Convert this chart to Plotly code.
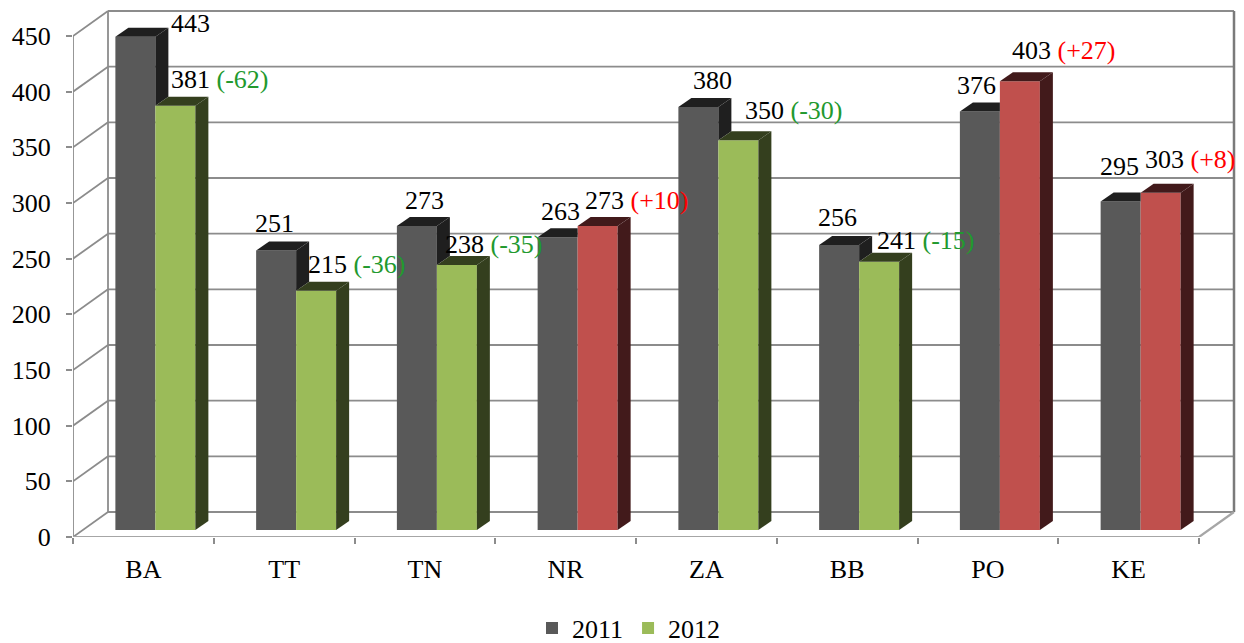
import plotly.graph_objects as go

# ---------------- data ----------------
categories = ["BA", "TT", "TN", "NR", "ZA", "BB", "PO", "KE"]
values_2011 = [443, 251, 273, 263, 380, 256, 376, 295]
values_2012 = [381, 215, 238, 273, 350, 241, 403, 303]
y_ticks = [0, 50, 100, 150, 200, 250, 300, 350, 400, 450]
series_names = ["2011", "2012"]

# ---------------- style ----------------
FONT = "Liberation Serif"
FS = 26
PAGE_OFF = 8                      # default body margin of the html page
W, H = 1244 - PAGE_OFF, 643 - PAGE_OFF
ML, MR, MT, MB = 73 - PAGE_OFF, 0, 0, 106
PW, PH = W - ML - MR, H - MT - MB
PX_PER_CAT = 140.75
PX_PER_VAL = 501 / 450
X_RANGE = [0, PW / PX_PER_CAT]
Y_RANGE = [0, PH / PX_PER_VAL]
KX = 1 / PX_PER_CAT
KY = 1 / PX_PER_VAL


def ux(px):
    return px * KX


def uy(px):
    return px * KY


WALL = (35, 25)       # depth of the 3D box (px)
BAR_OFF = (12, 7)     # front face offset of bars (px)
BAR_DEPTH = (13, 9)   # bar depth (px)
BAR_W = 40            # bar width (px)

C_DARK, C_DARK_SIDE = "#595959", "#1f1f1f"
C_GREEN, C_GREEN_SIDE = "#9bbb59", "#343f1e"
C_RED, C_RED_SIDE = "#c0504d", "#421a1b"
C_TXT_GREEN, C_TXT_RED = "#22992e", "#ff0000"
GRID = "#8c8c8c"

# label fine placement (px)
lab11_dx = [42, -14.5, -5, -10, 1, -15, -16, -14]
lab11_up = [4, 18, 17, 17, 17, 18, 17, 25.6]
lab12_dx = [1, -3, -7, -8, 12, 3, -3, -11]
lab12_up = [17, 17, 11.5, 17, 21, 12.5, 22, 24]

n = len(categories)
wdx, wdy = ux(WALL[0]), uy(WALL[1])
odx, base = ux(BAR_OFF[0]), uy(BAR_OFF[1])
ddx, ddy = ux(BAR_DEPTH[0]), uy(BAR_DEPTH[1])
bw = ux(BAR_W)

fig = go.Figure()

# ---------- box walls (shapes) ----------
shapes = []


def line(x0, y0, x1, y1, color=GRID, width=1.8):
    shapes.append(dict(type="line", xref="x", yref="y", x0=x0, y0=y0, x1=x1, y1=y1,
                       line=dict(color=color, width=width), layer="below"))


top = y_ticks[-1]
for v in y_ticks:
    line(wdx, v + wdy, n + wdx, v + wdy)      # back wall gridline
    line(0, v, wdx, v + wdy)                  # left wall diagonal
line(wdx, wdy, wdx, top + wdy)                # back-left edge
line(n + wdx, wdy, n + wdx, top + wdy, color="#7a7a7a", width=2.5)  # back-right edge
line(0, 0, 0, top)                            # front-left edge
line(0, 0, n, 0, color="#a6a6a6", width=2.2)  # front floor edge
line(n, 0, n + wdx, wdy, color="#a6a6a6", width=2.2)  # right floor edge

# ---------- bars ----------
c2012 = [C_GREEN if b < a else C_RED for a, b in zip(values_2011, values_2012)]
s2012 = [C_GREEN_SIDE if b < a else C_RED_SIDE for a, b in zip(values_2011, values_2012)]

x11 = [i + 0.5 + odx - bw / 2 for i in range(n)]
x12 = [i + 0.5 + odx + bw / 2 for i in range(n)]

fig.add_trace(go.Bar(x=x11, y=values_2011, base=base, width=bw, name=series_names[0],
                     marker=dict(color=C_DARK, line=dict(width=0)), hoverinfo="skip"))
fig.add_trace(go.Bar(x=x12, y=values_2012, base=base, width=bw, name=series_names[1],
                     marker=dict(color=c2012, line=dict(width=0)), hoverinfo="skip"))


def poly(xs, ys, color):
    fig.add_trace(go.Scatter(x=xs + [xs[0]], y=ys + [ys[0]], mode="lines", fill="toself",
                             fillcolor=color, line=dict(width=0, color=color),
                             showlegend=False, hoverinfo="skip"))


for i in range(n):
    a, b = values_2011[i], values_2012[i]
    L1, R1 = x11[i] - bw / 2, x11[i] + bw / 2
    L2, R2 = x12[i] - bw / 2, x12[i] + bw / 2
    ta, tb = a + base, b + base
    if b < a:
        poly([L1, R1, R1 + ddx, L1 + ddx], [ta, ta, ta + ddy, ta + ddy], C_DARK_SIDE)
        poly([R1, R1, R1 + ddx, R1 + ddx], [tb, ta, ta + ddy, tb + ddy], C_DARK_SIDE)
    else:
        poly([L1, R1, R1, L1 + ddx], [ta, ta, ta + ddy, ta + ddy], C_DARK_SIDE)
    poly([L2, R2, R2 + ddx, L2 + ddx], [tb, tb, tb + ddy, tb + ddy], s2012[i])
    poly([R2, R2 + ddx, R2 + ddx, R2], [base, base + ddy, tb + ddy, tb], s2012[i])

# ---------- labels ----------
ann = []
for i in range(n):
    a, b = values_2011[i], values_2012[i]
    ann.append(dict(x=x11[i] + ddx, y=a + base + ddy, xref="x", yref="y",
                    text=str(a), showarrow=False, xanchor="center", yanchor="middle",
                    xshift=lab11_dx[i], yshift=lab11_up[i],
                    font=dict(family=FONT, size=FS, color="#000000")))
    d = b - a
    col = C_TXT_GREEN if d < 0 else C_TXT_RED
    ann.append(dict(x=x12[i] - bw / 2 + ddx, y=b + base + ddy, xref="x", yref="y",
                    text=f"{b} <span style='color:{col}'>({d:+d})</span>",
                    showarrow=False, xanchor="left", yanchor="middle",
                    xshift=lab12_dx[i], yshift=lab12_up[i],
                    font=dict(family=FONT, size=FS, color="#000000")))

fig.update_layout(
    width=W, height=H, margin=dict(l=ML, r=MR, t=MT, b=MB, autoexpand=False),
    paper_bgcolor="white", plot_bgcolor="white",
    barmode="overlay", shapes=shapes, annotations=ann,
    font=dict(family=FONT, size=FS, color="#000000"),
    showlegend=True,
    legend=dict(orientation="h", x=(629 - PAGE_OFF - ML) / PW, xanchor="center",
                y=-(628 - PAGE_OFF - (H - MB)) / PH, yanchor="middle",
                font=dict(family=FONT, size=FS), itemclick=False, traceorder="normal"),
    xaxis=dict(range=X_RANGE, tickmode="array", tickvals=[i + 0.5 for i in range(n)],
               ticktext=categories, ticks="", showgrid=False, zeroline=False, showline=False,
               ticklabelstandoff=14, automargin=False,
               minor=dict(tickmode="array", tickvals=list(range(n + 1)), ticks="outside",
                          ticklen=6, tickcolor=GRID, tickwidth=1.8, showgrid=False),
               fixedrange=True),
    yaxis=dict(range=Y_RANGE, tickmode="array", tickvals=y_ticks, ticks="outside",
               ticklen=6, tickcolor=GRID, tickwidth=1.8, showgrid=False, zeroline=False,
               showline=False, ticklabelstandoff=10, automargin=False, fixedrange=True),
)

fig.write_html("out.html")
